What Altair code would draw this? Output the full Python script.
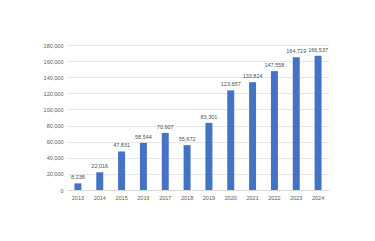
import altair as alt
import pandas as pd

years = ["2013", "2014", "2015", "2016", "2017", "2018", "2019", "2020", "2021", "2022", "2023", "2024"]
values = [8238, 22016, 47831, 58544, 70907, 55672, 83301, 123657, 133824, 147558, 164719, 166537]
y_ticks = [0, 20000, 40000, 60000, 80000, 100000, 120000, 140000, 160000, 180000]

df = pd.DataFrame({"year": years, "value": values})

base = alt.Chart(df).encode(
    x=alt.X("year:N", sort=None, title=None,
            scale=alt.Scale(paddingInner=0.68, paddingOuter=0.34),
            axis=alt.Axis(labelAngle=0, labelFontSize=5.5, labelColor="#595959", ticks=False,
                          domainColor="#d9d9d9", labelPadding=5, labelFont="Liberation Sans")),
    y=alt.Y("value:Q", title=None,
            scale=alt.Scale(domain=[0, 180000], nice=False),
            axis=alt.Axis(values=y_ticks, labelExpr="format(datum.value, ',')", labelFontSize=5.5,
                          labelColor="#595959", ticks=False, domain=False, gridColor="#e6e6e6",
                          labelPadding=4, labelFont="Liberation Sans")),
)

bars = base.mark_bar(color="#4472C4")
text = base.mark_text(dy=-6, fontSize=5.5, color="#505050", font="Liberation Sans").encode(
    text=alt.Text("value:Q", format=","))

chart = (bars + text).properties(
    width=262, height=145,
    autosize=alt.AutoSizeParams(type="none"),
    padding={"left": 67, "top": 45, "right": 46, "bottom": 51},
).configure_view(stroke=None)

chart.save("out.html", embed_options={"renderer": "svg", "actions": False})
